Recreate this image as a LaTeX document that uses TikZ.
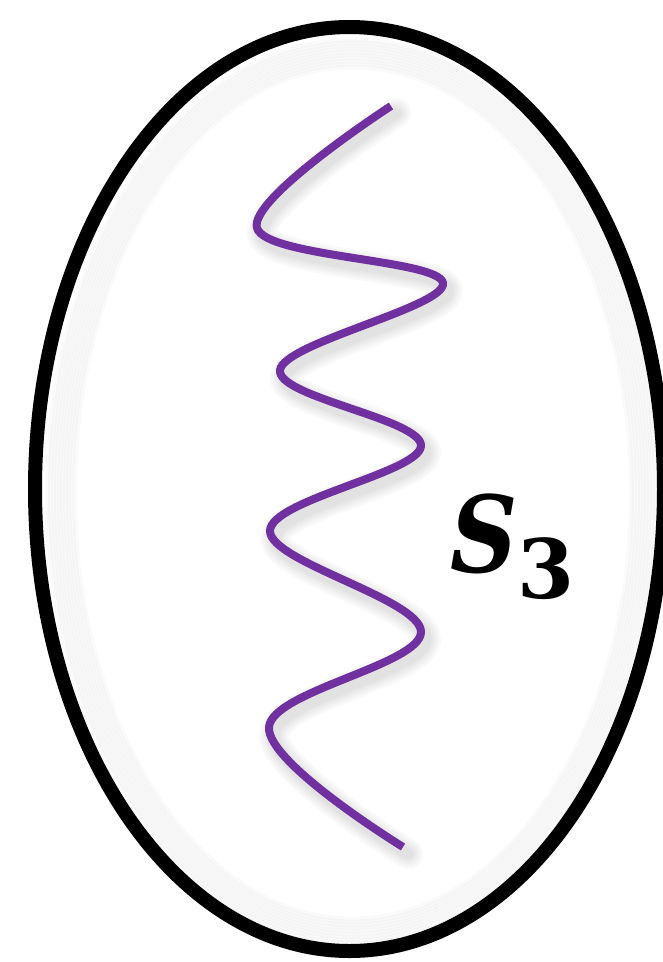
\documentclass[tikz,border=0pt]{standalone}
\usepackage{tikz}
\usepackage{xcolor}
\usepackage{fontspec}
\newfontfamily\labelfont{DejaVu Serif}
\definecolor{wavepurple}{HTML}{7030A0}

\begin{document}
\begin{tikzpicture}[x=1pt, y=-1pt]
\tikzstyle{cell} = [draw=black, line width=14pt]
\tikzstyle{glow} = [draw=black, opacity=0.018, line width=5pt]
\tikzstyle{chain} = [draw=wavepurple, line width=8pt, line cap=butt, line join=round]
\tikzstyle{ghost} = [draw=black, opacity=0.025, line cap=round, line join=round]
\tikzstyle{label} = [font=\labelfont\fontsize{106}{106}\selectfont\bfseries\itshape, inner sep=0pt]

\useasboundingbox (0,0) rectangle (663,962);

% soft shade inside the membrane
\foreach \d in {9,12,...,36}
  \draw [glow] (353,493) ellipse [x radius={314.5pt-\d pt}, y radius={462pt-\d pt}];

% outer membrane
\draw [cell] (349.5,489) ellipse [x radius=314.5pt, y radius=462pt];

% shadow of the chain
\foreach \w in {30,25,20,15,11}
  \draw [ghost, line width=\w pt, shift={(5,7)}] plot [smooth, tension=0.6] coordinates {
    (391,106) (257,228) (443,283) (280,370) (421,446)
    (270,531) (421,632) (269,727) (403,847)};

% folded chain
\draw [chain] plot [smooth, tension=0.6] coordinates {
  (391,106) (257,228) (443,283) (280,370) (421,446)
  (270,531) (421,632) (269,727) (403,847)};

% name of the chain
\node [label, anchor=base west] (name) at (450,572) {\scalebox{0.88}[1]{S}\raisebox{-26pt}{\fontsize{82}{82}\selectfont\upshape 3}};

\end{tikzpicture}
\end{document}
